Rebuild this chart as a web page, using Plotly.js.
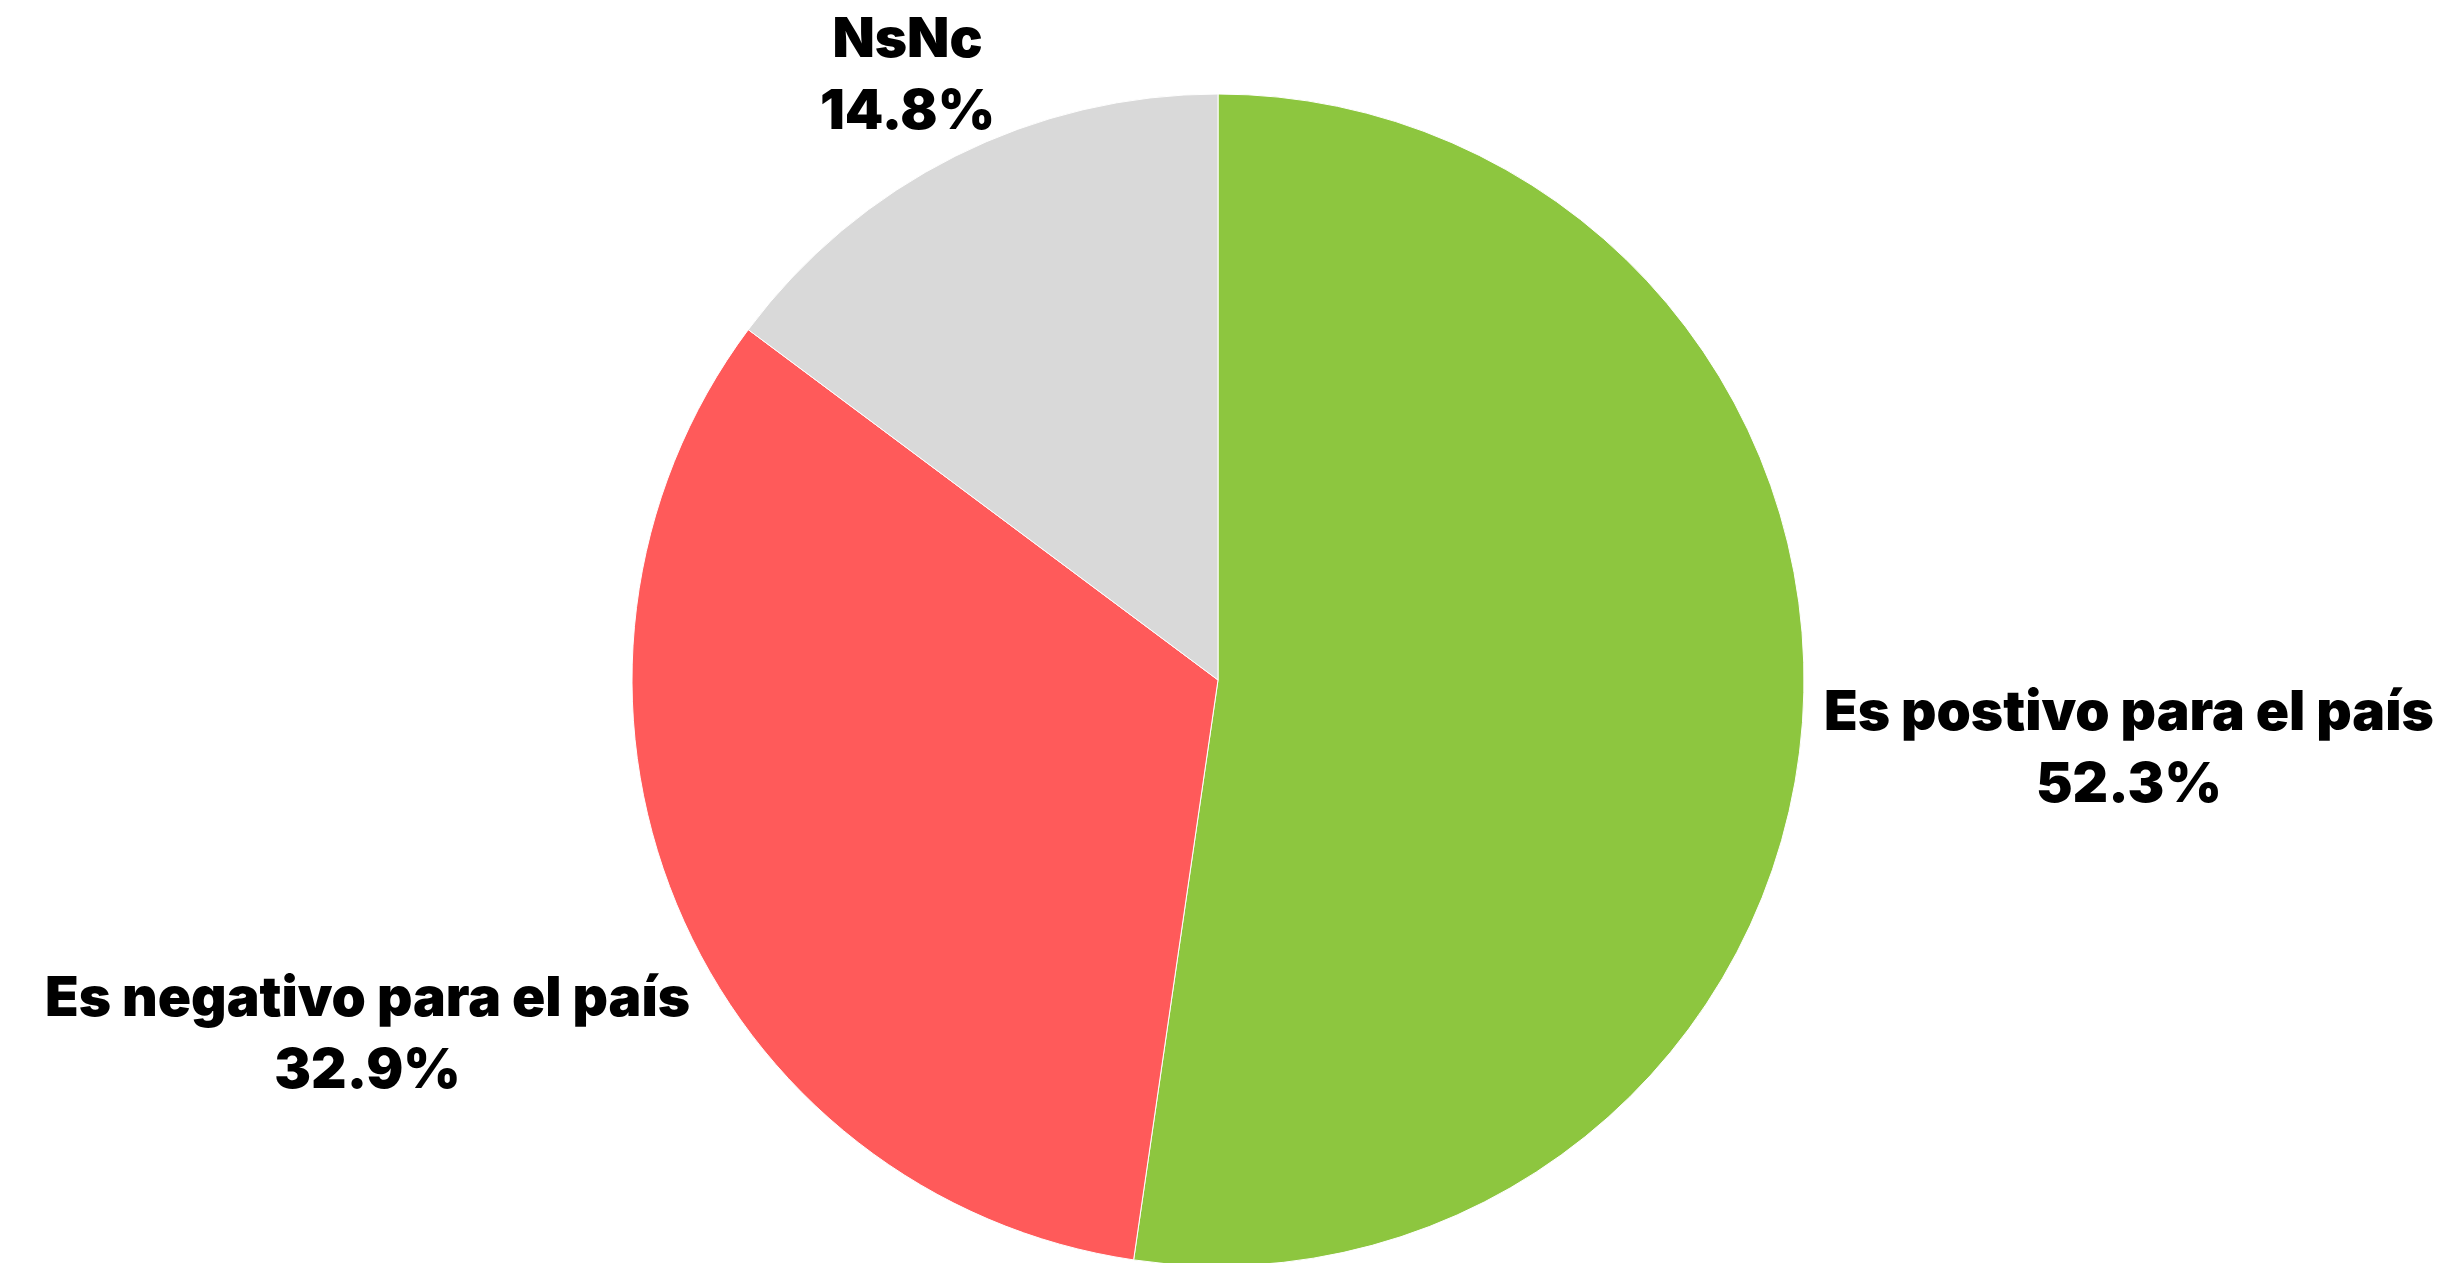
<!DOCTYPE html>
<html>
<head>
<meta charset="utf-8">
<script src="https://cdn.plot.ly/plotly-3.0.1.min.js"></script>
<style>
  html, body { margin: 0; padding: 0; background: #ffffff; overflow: hidden; }
  #chart { width: 2451px; height: 1266px; }
</style>
</head>
<body>
<div id="chart"></div>
<script>
const labels = ["Es postivo para el país", "Es negativo para el país", "NsNc"];
const values = [52.3, 32.9, 14.8];
const colors = ["#8DC63F", "#FF5A5A", "#D9D9D9"];

// ---- layout geometry (no data in here) ----
const W = 2451, H = 1266;
const M = { l: 0, r: 15, t: 94, b: 0 };
const FONT_FAMILY = "Inter, 'Open Sans', sans-serif";
const FONT_SIZE = 55;
const FONT_WEIGHT = 900;
const LABEL_GAP = 20;
const EDGE_PAD = 4;

const plotW = W - M.l - M.r, plotH = H - M.t - M.b;
const R = Math.min(plotW, plotH) / 2;
const CX = M.l + plotW / 2, CY = M.t + plotH / 2;

const total = values.reduce((a, b) => a + b, 0);
const pctText = values.map(v => (v / total * 100).toFixed(1) + "%");

// measure text width
const ctx = document.createElement("canvas").getContext("2d");
ctx.font = FONT_WEIGHT + " " + FONT_SIZE + "px " + FONT_FAMILY;
function textW(s) { return ctx.measureText(s).width; }

// label placement: box centre on the slice's mid-angle ray, pushed out
// until the box's nearest point is LABEL_GAP beyond the pie edge,
// then kept inside the page
const annotations = [];
let cum = 0;
values.forEach((v, i) => {
  const mid = (cum + v / 2) / total * 2 * Math.PI; // clockwise from 12 o'clock
  cum += v;
  const vx = Math.sin(mid), vy = -Math.cos(mid); // screen coords (y down)
  const a = Math.max(textW(labels[i]), textW(pctText[i])) / 2;
  const b = (0.727 * FONT_SIZE + 1.3 * FONT_SIZE) / 2;
  const target = R + LABEL_GAP;
  let lo = 0, hi = 3 * R;
  for (let k = 0; k < 60; k++) {
    const t = (lo + hi) / 2;
    const dx = Math.max(0, Math.abs(vx * t) - a);
    const dy = Math.max(0, Math.abs(vy * t) - b);
    if (Math.hypot(dx, dy) < target) lo = t; else hi = t;
  }
  let px = CX + vx * lo, py = CY + vy * lo;
  // full text box half-height (ascent of line 1 to descent of line 2)
  const boxHalf = (1.3 * FONT_SIZE + 1.21 * FONT_SIZE) / 2;
  py = Math.max(py, boxHalf + EDGE_PAD);
  py = Math.min(py, 1263 - boxHalf - EDGE_PAD);
  annotations.push({
    xref: "paper", yref: "paper",
    x: (px - M.l) / plotW,
    y: 1 - (py - M.t) / plotH,
    xanchor: "center", yanchor: "middle",
    align: "center",
    showarrow: false,
    text: labels[i] + "<br>" + pctText[i],
    font: { family: FONT_FAMILY, size: FONT_SIZE, color: "#000000", weight: FONT_WEIGHT }
  });
});

const trace = {
  type: "pie",
  labels: labels,
  values: values,
  sort: false,
  direction: "clockwise",
  rotation: 0,
  marker: { colors: colors, line: { color: "#ffffff", width: 1 } },
  textinfo: "none",
  hoverinfo: "label+percent",
  showlegend: false
};

const layout = {
  width: W,
  height: H,
  margin: { l: M.l, r: M.r, t: M.t, b: M.b, pad: 0 },
  paper_bgcolor: "#ffffff",
  plot_bgcolor: "#ffffff",
  showlegend: false,
  font: { family: FONT_FAMILY, color: "#000000" },
  annotations: annotations
};

Plotly.newPlot("chart", [trace], layout, { displayModeBar: false, staticPlot: true });
</script>
</body>
</html>
